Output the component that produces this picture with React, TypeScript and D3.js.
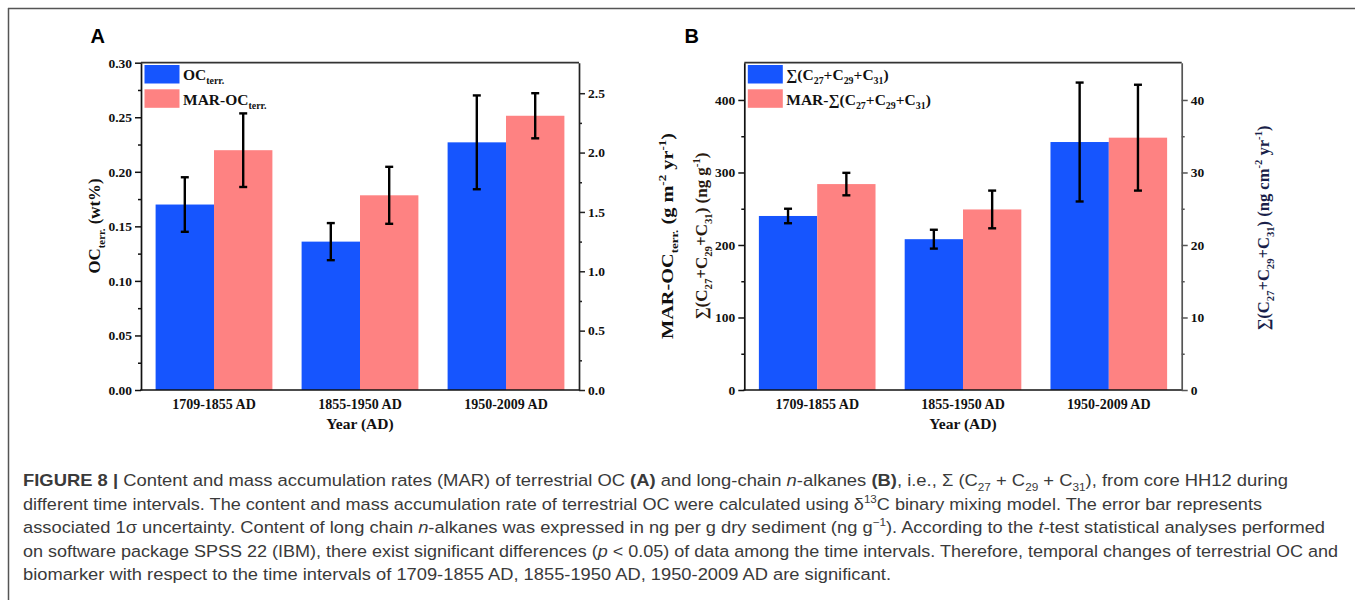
import React, { useEffect, useRef } from "react";
import * as d3 from "d3";

// data
const categories = ["1709-1855 AD", "1855-1950 AD", "1950-2009 AD"];

const ocTerr = [0.17, 0.136, 0.227];
const ocTerrErr = [0.025, 0.017, 0.043];
const marOc = [2.02, 1.64, 2.31];
const marOcErr = [0.31, 0.24, 0.19];

const alkanes = [240, 208, 342];
const alkanesErr = [10, 13, 82];
const marAlk = [28.4, 24.9, 34.8];
const marAlkErr = [1.55, 2.6, 7.3];

const ocTicks = [0, 0.05, 0.1, 0.15, 0.2, 0.25, 0.3];
const marOcTicks = [0, 0.5, 1, 1.5, 2, 2.5];
const alkTicks = [0, 100, 200, 300, 400];
const marAlkTicks = [0, 10, 20, 30, 40];

const BLUE = "#1655fe";
const PINK = "#fe8282";
const SERIF = "'Liberation Serif', 'Times New Roman', serif";
const SANS = "'Liberation Sans', Arial, sans-serif";

type Part = [string, string?];

// appends tspans, handling sub/superscripts with dy
function rich(text: any, parts: Part[], size: number) {
  let shift = 0;
  parts.forEach(([t, k]) => {
    const ts = text.append("tspan").text(t);
    let target = 0;
    if (k === "sub") {
      target = size * 0.28;
      ts.attr("font-size", size * 0.64);
    } else if (k === "sup") {
      target = -size * 0.4;
      ts.attr("font-size", size * 0.64);
    }
    if (k === "b") ts.attr("font-weight", "bold");
    if (k === "i") ts.attr("font-style", "italic");
    if (target !== shift) {
      ts.attr("dy", target - shift);
      shift = target;
    }
  });
}

const sumParts: Part[] = [["∑(C"], ["27", "sub"], ["+C"], ["29", "sub"], ["+C"], ["31", "sub"], [")"]];

function drawPanel(svg: any, cfg: any) {
  const top = 62.7;
  const bottom = 390;
  const { x0, x1 } = cfg;
  const g = svg.append("g");

  const x = d3.scaleBand().domain(categories).range([x0, x1]).paddingInner(0.2).paddingOuter(0.1);
  const yL = d3.scaleLinear().domain(cfg.leftDomain).range([bottom, top]);
  const yR = d3.scaleLinear().domain(cfg.rightDomain).range([bottom, top]);
  const half = x.bandwidth() / 2;

  // bars
  categories.forEach((c, i) => {
    const bx = x(c)!;
    g.append("rect")
      .attr("x", bx)
      .attr("y", yL(cfg.blue[i]))
      .attr("width", half)
      .attr("height", bottom - yL(cfg.blue[i]))
      .attr("fill", BLUE);
    g.append("rect")
      .attr("x", bx + half)
      .attr("y", yR(cfg.pink[i]))
      .attr("width", half)
      .attr("height", bottom - yR(cfg.pink[i]))
      .attr("fill", PINK);
  });

  // error bars
  const errBar = (cx: number, y1: number, y2: number) => {
    g.append("line").attr("x1", cx).attr("x2", cx).attr("y1", y1).attr("y2", y2)
      .attr("stroke", "#000").attr("stroke-width", 2.4);
    [y1, y2].forEach((yy) =>
      g.append("line").attr("x1", cx - 4).attr("x2", cx + 4).attr("y1", yy).attr("y2", yy)
        .attr("stroke", "#000").attr("stroke-width", 2.4)
    );
  };
  categories.forEach((c, i) => {
    const bx = x(c)!;
    errBar(bx + half / 2, yL(cfg.blue[i] + cfg.blueErr[i]), yL(cfg.blue[i] - cfg.blueErr[i]));
    errBar(bx + half * 1.5, yR(cfg.pink[i] + cfg.pinkErr[i]), yR(cfg.pink[i] - cfg.pinkErr[i]));
  });

  // frame
  const frame = (xa: number, ya: number, xb: number, yb: number, col: string) =>
    g.append("line").attr("x1", xa).attr("y1", ya).attr("x2", xb).attr("y2", yb)
      .attr("stroke", col).attr("stroke-width", 1.7);
  frame(x0, top, x1, top, "#333");
  frame(x0 - 0.8, bottom, x1 + 0.8, bottom, "#111");

  const styleAxis = (ag: any, col: string) => {
    ag.select(".domain").attr("stroke", col).attr("stroke-width", 1.7);
    ag.selectAll(".tick line").attr("stroke", col).attr("stroke-width", 1.5);
    ag.selectAll("text")
      .attr("font-family", SERIF)
      .attr("font-weight", "bold")
      .attr("font-size", 13.5)
      .attr("fill", "#111");
  };

  const leftAxis = d3.axisLeft(yL).tickValues(cfg.leftTicks).tickFormat(cfg.leftFmt)
    .tickSize(6).tickSizeOuter(0).tickPadding(3);
  const la = g.append("g").attr("transform", `translate(${x0},0)`).call(leftAxis);
  styleAxis(la, "#111");
  const lm = g.append("g").attr("transform", `translate(${x0},0)`)
    .call(d3.axisLeft(yL).tickValues(cfg.leftMinor).tickFormat(() => "").tickSize(3));
  lm.select(".domain").remove();
  lm.selectAll(".tick line").attr("stroke", "#111").attr("stroke-width", 1.5);

  const rightAxis = d3.axisRight(yR).tickValues(cfg.rightTicks).tickFormat(cfg.rightFmt)
    .tickSize(6).tickSizeOuter(0).tickPadding(3);
  const ra = g.append("g").attr("transform", `translate(${x1},0)`).call(rightAxis);
  styleAxis(ra, cfg.rightColor);
  const rm = g.append("g").attr("transform", `translate(${x1},0)`)
    .call(d3.axisRight(yR).tickValues(cfg.rightMinor).tickFormat(() => "").tickSize(3));
  rm.select(".domain").remove();
  rm.selectAll(".tick line").attr("stroke", cfg.rightColor).attr("stroke-width", 1.5);

  // category labels
  categories.forEach((c) => {
    g.append("text")
      .attr("x", x(c)! + x.bandwidth() / 2)
      .attr("y", 409)
      .attr("text-anchor", "middle")
      .attr("font-family", SERIF)
      .attr("font-weight", "bold")
      .attr("font-size", 14)
      .attr("fill", "#111")
      .text(c);
  });
  g.append("text")
    .attr("x", (x0 + x1) / 2)
    .attr("y", 428.5)
    .attr("text-anchor", "middle")
    .attr("font-family", SERIF)
    .attr("font-weight", "bold")
    .attr("font-size", 15.5)
    .attr("fill", "#111")
    .text("Year (AD)");

  // legend
  [
    [BLUE, cfg.legend1, 65, 80],
    [PINK, cfg.legend2, 89.3, 105],
  ].forEach(([col, parts, ry, ty]: any) => {
    g.append("rect").attr("x", x0 + 3.5).attr("y", ry).attr("width", 35).attr("height", 18.5).attr("fill", col);
    const t = g.append("text")
      .attr("x", x0 + 42)
      .attr("y", ty)
      .attr("font-family", SERIF)
      .attr("font-weight", "bold")
      .attr("font-size", 15.5)
      .attr("fill", "#111");
    rich(t, parts, 15.5);
  });

  // axis titles
  const title = (parts: Part[], tx: number, ty: number, len: number, col: string) => {
    const t = g.append("text")
      .attr("transform", `translate(${tx},${ty}) rotate(-90)`)
      .attr("text-anchor", "middle")
      .attr("font-family", SERIF)
      .attr("font-weight", "bold")
      .attr("font-size", 16.5)
      .attr("fill", col)
      .attr("textLength", len)
      .attr("lengthAdjust", "spacingAndGlyphs");
    rich(t, parts, 16.5);
  };
  title(cfg.leftTitle, cfg.leftTitleX, cfg.leftTitleY, cfg.leftTitleLen, cfg.leftTitleColor);
  title(cfg.rightTitle, cfg.rightTitleX, cfg.rightTitleY, cfg.rightTitleLen, cfg.rightTitleColor);

  // panel letter
  svg.append("text")
    .attr("x", cfg.letterX)
    .attr("y", 42.7)
    .attr("font-family", SANS)
    .attr("font-weight", "bold")
    .attr("font-size", 20)
    .attr("fill", "#000")
    .text(cfg.letter);
}

const captionLines: { parts: Part[]; width: number }[] = [
  {
    width: 1265,
    parts: [
      ["FIGURE 8 | ", "b"],
      ["Content and mass accumulation rates (MAR) of terrestrial OC "],
      ["(A)", "b"],
      [" and long-chain "],
      ["n", "i"],
      ["-alkanes "],
      ["(B)", "b"],
      [", i.e., Σ (C"],
      ["27", "sub"],
      [" + C"],
      ["29", "sub"],
      [" + C"],
      ["31", "sub"],
      ["), from core HH12 during"],
    ],
  },
  {
    width: 1239,
    parts: [
      ["different time intervals. The content and mass accumulation rate of terrestrial OC were calculated using δ"],
      ["13", "sup"],
      ["C binary mixing model. The error bar represents"],
    ],
  },
  {
    width: 1302,
    parts: [
      ["associated 1σ uncertainty. Content of long chain "],
      ["n", "i"],
      ["-alkanes was expressed in ng per g dry sediment (ng g"],
      ["−1", "sup"],
      ["). According to the "],
      ["t", "i"],
      ["-test statistical analyses performed"],
    ],
  },
  {
    width: 1315,
    parts: [
      ["on software package SPSS 22 (IBM), there exist significant differences ("],
      ["p", "i"],
      [" < 0.05) of data among the time intervals. Therefore, temporal changes of terrestrial OC and"],
    ],
  },
  {
    width: 868,
    parts: [["biomarker with respect to the time intervals of 1709-1855 AD, 1855-1950 AD, 1950-2009 AD are significant."]],
  },
];
const captionBaselines = [486, 509.5, 533, 556.5, 580];

export default function App() {
  const ref = useRef<SVGSVGElement>(null);

  useEffect(() => {
    const svg = d3.select(ref.current);
    svg.selectAll("*").remove();

    // outer figure frame (top and left only)
    svg.append("line").attr("x1", 8).attr("y1", 8.5).attr("x2", 1355).attr("y2", 8.5)
      .attr("stroke", "#555").attr("stroke-width", 1.5);
    svg.append("line").attr("x1", 8.5).attr("y1", 8).attr("x2", 8.5).attr("y2", 600)
      .attr("stroke", "#555").attr("stroke-width", 1.5);

    drawPanel(svg, {
      x0: 141,
      x1: 579,
      letter: "A",
      letterX: 90.5,
      leftDomain: [0, 0.3],
      leftTicks: ocTicks,
      leftMinor: [0.025, 0.075, 0.125, 0.175, 0.225, 0.275],
      leftFmt: d3.format(".2f"),
      rightDomain: [0, 2.757],
      rightTicks: marOcTicks,
      rightMinor: [0.25, 0.75, 1.25, 1.75, 2.25],
      rightFmt: d3.format(".1f"),
      rightColor: "#222",
      blue: ocTerr,
      blueErr: ocTerrErr,
      pink: marOc,
      pinkErr: marOcErr,
      legend1: [["OC"], ["terr.", "sub"]],
      legend2: [["MAR-OC"], ["terr.", "sub"]],
      leftTitle: [["OC"], ["terr.", "sub"], [" (wt%)"]],
      leftTitleX: 100,
      leftTitleY: 226,
      leftTitleLen: 95,
      leftTitleColor: "#111",
      rightTitle: [["MAR-OC"], ["terr.", "sub"], [" (g m"], ["-2", "sup"], [" yr"], ["-1", "sup"], [")"]],
      rightTitleX: 673,
      rightTitleY: 236,
      rightTitleLen: 206,
      rightTitleColor: "#111",
    });

    drawPanel(svg, {
      x0: 744.3,
      x1: 1181.7,
      letter: "B",
      letterX: 684.5,
      leftDomain: [0, 451.4],
      leftTicks: alkTicks,
      leftMinor: [50, 150, 250, 350],
      leftFmt: d3.format("d"),
      rightDomain: [0, 45.14],
      rightTicks: marAlkTicks,
      rightMinor: [5, 15, 25, 35],
      rightFmt: d3.format("d"),
      rightColor: "#555",
      blue: alkanes,
      blueErr: alkanesErr,
      pink: marAlk,
      pinkErr: marAlkErr,
      legend1: sumParts,
      legend2: [["MAR-"] as Part, ...sumParts],
      leftTitle: [...sumParts, [" (ng g"], ["-1", "sup"], [")"]],
      leftTitleX: 707,
      leftTitleY: 236,
      leftTitleLen: 167,
      leftTitleColor: "#2a1a10",
      rightTitle: [...sumParts, [" (ng cm"], ["-2", "sup"], [" yr"], ["-1", "sup"], [")"]],
      rightTitleX: 1269,
      rightTitleY: 228,
      rightTitleLen: 205,
      rightTitleColor: "#1a1f4a",
    });

    // caption
    captionLines.forEach((line, i) => {
      const t = svg.append("text")
        .attr("x", 23)
        .attr("y", captionBaselines[i])
        .attr("font-family", SANS)
        .attr("font-size", 16.3)
        .attr("fill", "#3a3a3a")
        .attr("textLength", line.width)
        .attr("lengthAdjust", "spacingAndGlyphs");
      rich(t, line.parts, 16.3);
    });
  }, []);

  return (
    <svg
      ref={ref}
      width={1355}
      height={600}
      style={{ position: "absolute", left: 0, top: 0, background: "#fff" }}
    />
  );
}
